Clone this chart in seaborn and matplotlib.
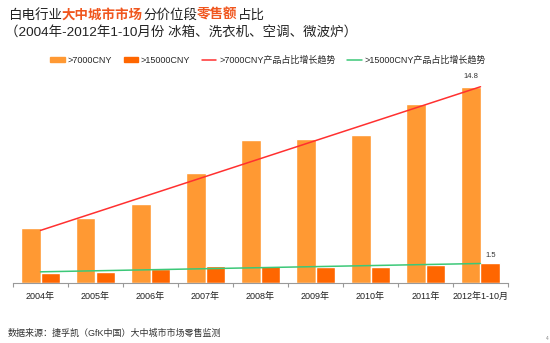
import numpy as np
import pandas as pd
import matplotlib
matplotlib.use("Agg")
import matplotlib.pyplot as plt
import seaborn as sns
from matplotlib.patches import Patch
from matplotlib.lines import Line2D

categories = ["2004年", "2005年", "2006年", "2007年", "2008年", "2009年", "2010年", "2011年", "2012年1-10月"]
over_7000 = [4.2, 4.9, 6.0, 8.3, 10.8, 10.9, 11.2, 13.5, 14.8]
over_15000 = [0.76, 0.85, 1.1, 1.3, 1.3, 1.2, 1.2, 1.4, 1.5]
series_names = [">7000CNY", ">15000CNY"]
trend_names = [">7000CNY产品占比增长趋势", ">15000CNY产品占比增长趋势"]

sns.set_theme(style="white")
FAM = ["Liberation Sans", "Noto Sans CJK SC", "DejaVu Sans"]
plt.rcParams["font.family"] = FAM

C1 = "#FF9933"
C2 = "#FF6600"
RED = "#FF3030"
GREEN = "#3CC878"

df = pd.DataFrame({
    "cat": categories * 2,
    "series": [series_names[0]] * len(categories) + [series_names[1]] * len(categories),
    "value": over_7000 + over_15000,
})

fig = plt.figure(figsize=(5.5, 3.43), dpi=100)
W, H = 550, 343
ax = fig.add_axes([13 / W, 1 - 283.3 / H, 495 / W, (283.3 - 71) / H])

sns.barplot(data=df, x="cat", y="value", hue="series", palette=[C1, C2],
            width=0.727, gap=0, ax=ax, legend=False, saturation=1, errorbar=None)

pos = np.arange(len(categories))
for vals, col in [(over_7000, RED), (over_15000, GREEN)]:
    sns.regplot(x=pos, y=np.array(vals), ci=None, scatter=False, truncate=True,
                line_kws=dict(color=col, lw=1.1), ax=ax)

ax.set_xlim(-0.5, len(categories) - 0.5)
ax.set_ylim(0, 16)
ax.set_xlabel("")
ax.set_ylabel("")
ax.set_yticks([])
ax.set_xticks(pos)
ax.set_xticklabels(categories, fontsize=6.5, color="#222222")
ax.set_xticks(np.arange(-0.5, len(categories), 1.0), minor=True)
ax.tick_params(axis="x", which="major", length=0, pad=6)
ax.tick_params(axis="x", which="minor", length=3, color="#999999", width=0.8, bottom=True)
for s in ["top", "left", "right"]:
    ax.spines[s].set_visible(False)
ax.spines["bottom"].set_color("#999999")
ax.spines["bottom"].set_linewidth(0.8)

ax.annotate("14.8", (8 - 0.18, over_7000[-1]), xytext=(0, 5), textcoords="offset points",
            ha="center", va="bottom", fontsize=5.5, color="#333333")
ax.annotate("1.5", (8 + 0.18, over_15000[-1]), xytext=(0, 3), textcoords="offset points",
            ha="center", va="bottom", fontsize=5.5, color="#333333")

handles = [Patch(color=C1), Patch(color=C2),
           Line2D([], [], color=RED, lw=1.1), Line2D([], [], color=GREEN, lw=1.1)]
fig.legend(handles, series_names + trend_names, loc="center", ncol=4,
           bbox_to_anchor=(268 / W, 1 - 60 / H), frameon=False, fontsize=6.5,
           handlelength=1.6, handletextpad=0.3, columnspacing=1.3, handleheight=0.6)

# Title with coloured pieces
fig.canvas.draw()
r = fig.canvas.get_renderer()
pieces = [("白电行业", "#222222", "normal"), ("大中城市市场", "#F0561E", "bold"),
          ("分价位段", "#222222", "normal"), ("零售额", "#F0561E", "bold"), ("占比", "#222222", "normal")]
x = 8 / W
for txt, col, wt in pieces:
    t = fig.text(x, 1 - 15.5 / H, txt, fontsize=9.7, color=col, fontweight=wt,
                 va="center", ha="left", family=FAM)
    bb = t.get_window_extent(r)
    x = bb.x1 / W
fig.text(5 / W, 1 - 32.5 / H, "（2004年-2012年1-10月份 冰箱、洗衣机、空调、微波炉）",
         fontsize=9.7, color="#222222", va="center", ha="left", family=FAM)

fig.text(8 / W, 1 - 333 / H, "数据来源：捷孚凯（GfK中国）大中城市市场零售监测",
         fontsize=6.5, color="#333333", va="center", ha="left", family=FAM)
fig.text(547 / W, 1 - 338 / H, "4", fontsize=3.5, color="#888888", va="center", ha="center")

fig.savefig("out.png", dpi=100)
